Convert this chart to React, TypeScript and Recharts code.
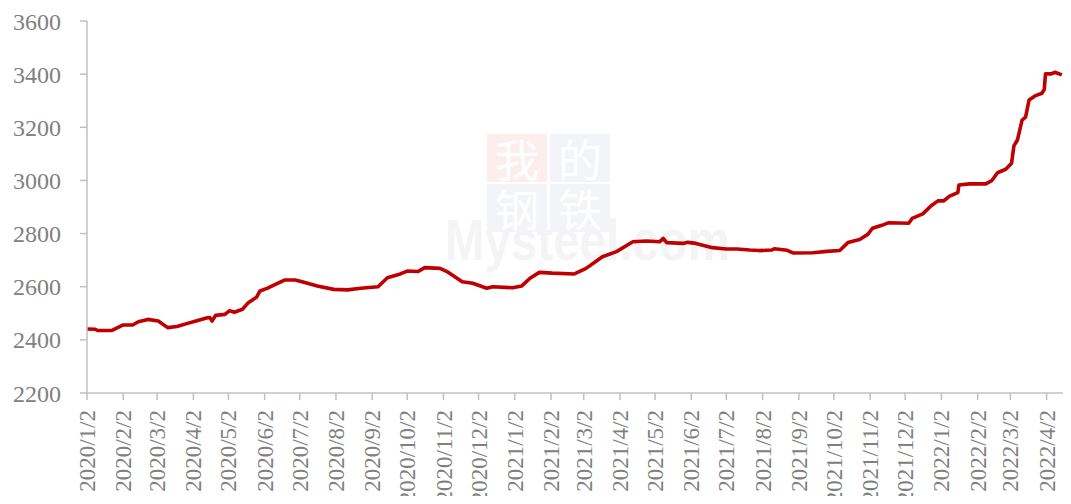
import React from 'react';
import { LineChart, Line, XAxis, YAxis } from 'recharts';

const dates = [
  '2020/1/2', '2020/1/9', '2020/1/11', '2020/1/23', '2020/2/2', '2020/2/10', '2020/2/15', '2020/2/23',
  '2020/3/3', '2020/3/11', '2020/3/19', '2020/3/28', '2020/4/5', '2020/4/14', '2020/4/16', '2020/4/18',
  '2020/4/21', '2020/4/29', '2020/5/3', '2020/5/7', '2020/5/14', '2020/5/19', '2020/5/26', '2020/5/29',
  '2020/6/4', '2020/6/13', '2020/6/19', '2020/6/28', '2020/7/4', '2020/7/11', '2020/7/17', '2020/7/31',
  '2020/8/12', '2020/8/23', '2020/9/7', '2020/9/15', '2020/9/26', '2020/10/2', '2020/10/11', '2020/10/17',
  '2020/10/30', '2020/11/5', '2020/11/18', '2020/11/27', '2020/12/9', '2020/12/14', '2020/12/31',
  '2021/1/8', '2021/1/15', '2021/1/23', '2021/2/3', '2021/2/22', '2021/3/4', '2021/3/18', '2021/3/30',
  '2021/4/13', '2021/4/25', '2021/5/6', '2021/5/9', '2021/5/12', '2021/5/26', '2021/5/30', '2021/6/6',
  '2021/6/20', '2021/7/2', '2021/7/11', '2021/7/22', '2021/7/30', '2021/8/10', '2021/8/12', '2021/8/23',
  '2021/8/28', '2021/9/14', '2021/9/26', '2021/10/7', '2021/10/14', '2021/10/24', '2021/10/31',
  '2021/11/4', '2021/11/12', '2021/11/18', '2021/12/5', '2021/12/8', '2021/12/17', '2021/12/24',
  '2021/12/30', '2022/1/4', '2022/1/9', '2022/1/16', '2022/1/17', '2022/1/26', '2022/2/9', '2022/2/14',
  '2022/2/19', '2022/2/26', '2022/3/3', '2022/3/5', '2022/3/8', '2022/3/12', '2022/3/15', '2022/3/18',
  '2022/3/23', '2022/3/29', '2022/3/31', '2022/4/1', '2022/4/6', '2022/4/9', '2022/4/15',
];

const prices = [
  2441, 2440, 2435, 2435, 2456, 2456, 2468, 2477,
  2471, 2446, 2450, 2462, 2472, 2483, 2484, 2471,
  2492, 2496, 2510, 2504, 2515, 2540, 2560, 2584,
  2594, 2613, 2625, 2625, 2619, 2610, 2603, 2590,
  2588, 2594, 2600, 2634, 2648, 2659, 2657, 2672,
  2669, 2657, 2619, 2613, 2594, 2600, 2596,
  2603, 2632, 2654, 2651, 2648, 2669, 2713, 2732,
  2769, 2772, 2769, 2782, 2766, 2763, 2767, 2763,
  2747, 2742, 2742, 2738, 2736, 2738, 2743, 2737,
  2727, 2728, 2733, 2736, 2766, 2778, 2797,
  2820, 2831, 2841, 2839, 2857, 2874, 2904,
  2923, 2923, 2941, 2954, 2983, 2987, 2987, 2999,
  3029, 3042, 3065, 3130, 3152, 3227, 3238, 3303,
  3318, 3328, 3343, 3401, 3401, 3407, 3397,
];

const monthLabels = [
  '2020/1/2', '2020/2/2', '2020/3/2', '2020/4/2', '2020/5/2', '2020/6/2', '2020/7/2', '2020/8/2',
  '2020/9/2', '2020/10/2', '2020/11/2', '2020/12/2', '2021/1/2', '2021/2/2', '2021/3/2', '2021/4/2',
  '2021/5/2', '2021/6/2', '2021/7/2', '2021/8/2', '2021/9/2', '2021/10/2', '2021/11/2', '2021/12/2',
  '2022/1/2', '2022/2/2', '2022/3/2', '2022/4/2',
];

const yTicks = [2200, 2400, 2600, 2800, 3000, 3200, 3400, 3600];

const FONT = "'Times New Roman', 'Liberation Serif', serif";
const GREY = '#808080';

// days since the first date
const toDay = (s: string) => {
  const [y, m, d] = s.split('/').map(Number);
  return (Date.UTC(y, m - 1, d) - Date.UTC(2020, 0, 2)) / 86400000;
};

const data = dates.map((d, i) => ({ t: toDay(d), v: prices[i] }));
const xTicks = monthLabels.map(toDay);

const XTick = (props: any) => {
  const { x, y, payload } = props;
  const idx = xTicks.indexOf(payload.value);
  return (
    <g transform={`translate(${x},${y})`}>
      <text
        transform='rotate(-90)'
        x={-10}
        dy='0.35em'
        textAnchor='end'
        fill={GREY}
        fontSize={23}
        fontFamily={FONT}
      >
        {monthLabels[idx]}
      </text>
    </g>
  );
};

const box = (left: number, top: number, bg: string, ch: string) => (
  <div
    style={{
      position: 'absolute',
      left,
      top,
      width: 60,
      height: 48,
      background: bg,
      color: '#fff',
      fontSize: 44,
      lineHeight: '48px',
      textAlign: 'center',
      fontFamily: "'Noto Sans CJK SC', sans-serif",
    }}
  >
    {ch}
  </div>
);

const App: React.FC = () => {
  return (
    <div style={{ position: 'relative', width: 1062, height: 488 }}>
      {box(479, 126, '#fdeeee', '我')}
      {box(542, 126, '#f3f4f8', '的')}
      {box(479, 176, '#f3f4f8', '钢')}
      {box(542, 176, '#f3f4f8', '铁')}
      <svg width={1062} height={488} style={{ position: 'absolute', left: 0, top: 0 }}>
        <text
          x={437}
          y={252}
          fontSize={58}
          fontWeight='bold'
          fontFamily='Arial, Liberation Sans, sans-serif'
          fill='#f4f4f4'
          textLength={285}
          lengthAdjust='spacingAndGlyphs'
        >
          Mysteel.com
        </text>
      </svg>
      <div style={{ position: 'absolute', left: 0, top: 0 }}>
        <LineChart
          width={1062}
          height={496}
          data={data}
          margin={{ top: 13, right: 0, bottom: 0, left: 0 }}
        >
          <XAxis
            dataKey='t'
            type='number'
            domain={[0, 841]}
            ticks={xTicks}
            interval={0}
            height={111}
            tickSize={7}
            tickMargin={0}
            tick={<XTick />}
            stroke='#C0C0C0'
            strokeWidth={1.5}
          />
          <YAxis
            domain={[2200, 3600]}
            ticks={yTicks}
            interval={0}
            width={79}
            tickSize={7}
            tickMargin={19}
            stroke='#C0C0C0'
            strokeWidth={1.5}
            tick={{ fill: GREY, fontSize: 24, fontFamily: FONT }}
          />
          <Line
            type='linear'
            dataKey='v'
            stroke='#C00000'
            strokeWidth={3.6}
            dot={false}
            strokeLinejoin='round'
            isAnimationActive={false}
          />
        </LineChart>
      </div>
    </div>
  );
};

export default App;
